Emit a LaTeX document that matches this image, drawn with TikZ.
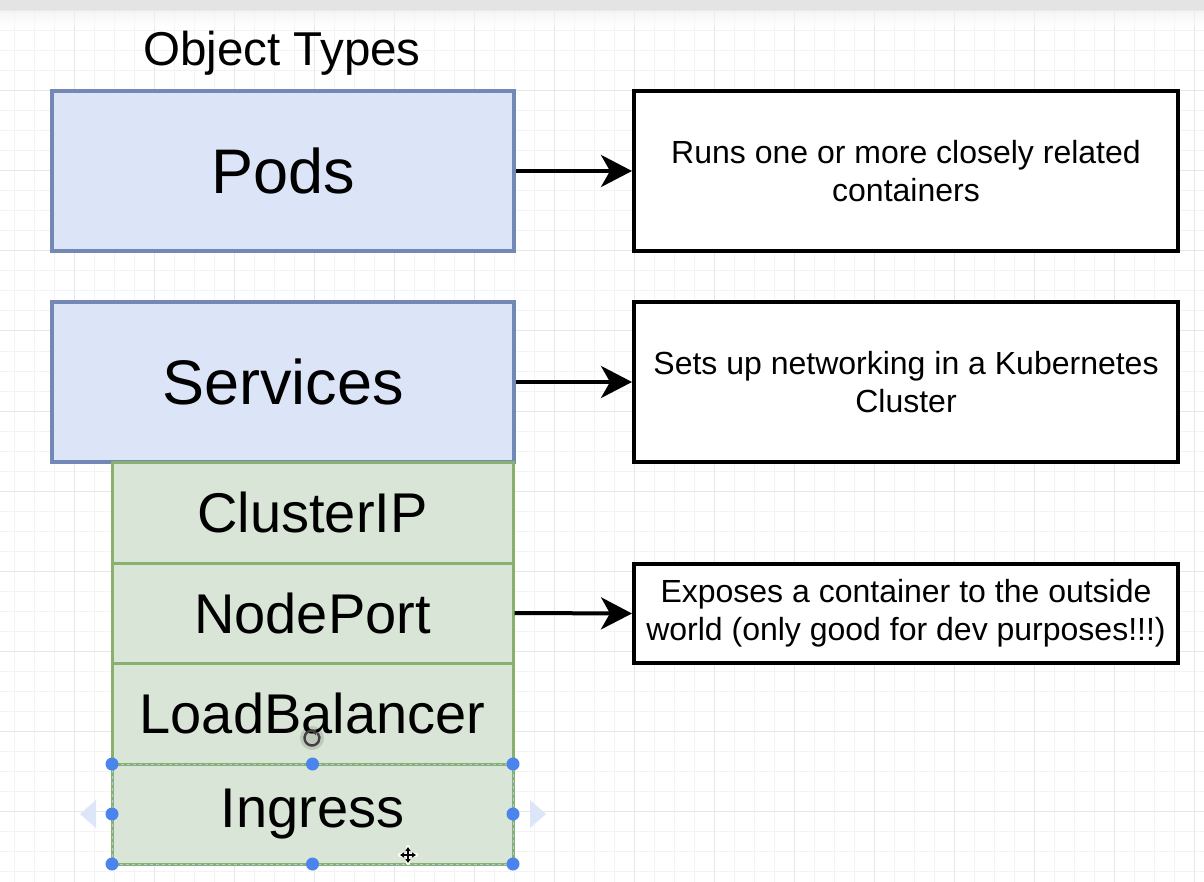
\documentclass[tikz,border=0pt]{standalone}
\usepackage{fontspec}
\setmainfont{Liberation Sans}
\usetikzlibrary{arrows.meta,positioning,calc}
\definecolor{blueFill}{HTML}{DCE5F7}
\definecolor{blueLine}{HTML}{7488B5}
\definecolor{greenFill}{HTML}{D9E5D6}
\definecolor{greenLine}{HTML}{8AB06E}
\definecolor{handleBlue}{HTML}{4C84EE}
\definecolor{gridMinor}{HTML}{F3F3F3}
\definecolor{gridMajor}{HTML}{E7E7E7}
\definecolor{barGray}{HTML}{E4E4E4}
\definecolor{ghost}{HTML}{DCE6F8}
\tikzset{
  bluebox/.style={draw=blueLine, fill=blueFill, line width=3.5pt, rectangle,
    minimum width=462pt, minimum height=160pt, inner sep=0pt, font=\fontsize{63}{70}\selectfont},
  greenbox/.style={draw=greenLine, fill=greenFill, line width=3pt, rectangle, outer sep=0pt,
    minimum width=401pt, inner sep=0pt, font=\fontsize{56}{62}\selectfont},
  descbox/.style={draw=black, fill=white, line width=4pt, rectangle,
    minimum width=544pt, inner sep=0pt, align=center, font=\fontsize{32}{38}\selectfont},
  conn/.style={line width=4pt, -{Stealth[length=31pt,width=32pt,inset=9pt]}},
  handle/.style={fill=handleBlue},
}
\begin{document}
\begin{tikzpicture}[x=1pt,y=-1pt]
\useasboundingbox (0,0) rectangle (1204,882);
\fill[white] (0,0) rectangle (1204,882);
% canvas grid
\foreach \gx in {14,34,...,1204} \draw[gridMinor, line width=1pt] (\gx,11) -- (\gx,882);
\foreach \gy in {31,51,...,882} \draw[gridMinor, line width=1pt] (0,\gy) -- (1204,\gy);
\foreach \gx in {74,154,...,1204} \draw[gridMajor, line width=1pt] (\gx,11) -- (\gx,882);
\foreach \gy in {91,171,...,882} \draw[gridMajor, line width=1pt] (0,\gy) -- (1204,\gy);
% toolbar strip
\fill[barGray] (0,0) rectangle (1204,11);
\shade[top color=gridMajor!70, bottom color=white, opacity=0.6] (0,11) rectangle (1204,26);

% title
\node (title) at (282,53) {\fontsize{47.5}{52}\selectfont Object Types};

% object boxes
\node[bluebox] (pods) at (283,171) {Pods};
\node[bluebox] (services) at (283,382) {Services};
\node[greenbox, minimum height=101pt] (clusterip) at (312.5,512.5) {ClusterIP};
\node[greenbox, minimum height=100pt] (nodeport) at (312.5,613) {NodePort};
\node[greenbox, minimum height=101pt] (lb) at (312.5,713.5) {LoadBalancer};
\node[greenbox, minimum height=100pt] (ingress) at (312.5,814) {Ingress};

% descriptions
\node[descbox, minimum height=160pt] (podsd) at (906,171) {Runs one or more closely related\\containers};
\node[descbox, minimum height=160pt] (servicesd) at (906,382) {Sets up networking in a Kubernetes\\Cluster};
\node[descbox, minimum height=99pt] (nodeportd) at (906,613.5) {Exposes a container to the outside\\world (only good for dev purposes!!!)};

% connectors
\draw[conn] (pods.east) -- (podsd.west);
\draw[conn] (services.east) -- (servicesd.west);
\draw[conn] ([xshift=1.5pt]nodeport.east) -- (nodeportd.west);

% selection on the Ingress box
\draw[handleBlue!45, line width=1pt, dash pattern=on 3pt off 3pt] (ingress.north west) rectangle (ingress.south east);
\fill[ghost] ($(ingress.west)+(-32,0)$) -- ++(16,-14) -- ++(0,28) -- cycle;
\fill[ghost] ($(ingress.east)+(33,0)$) -- ++(-16,-14) -- ++(0,28) -- cycle;
\foreach \a in {north west,north,north east,west,east,south west,south,south east}
  \fill[handle] (ingress.\a) circle (6.5pt);

% rotate handle
\coordinate (rot) at (312,738);
\fill[black, opacity=0.12] (rot) circle (12pt);
\draw[black!75, line width=2.4pt] ([shift={(60:7.5pt)}]rot) arc[start angle=60, end angle=400, radius=7.5pt];
\fill[black!75] ([shift={(50:7.5pt)}]rot) -- ++(-6,-2) -- ++(5,5) -- cycle;

% move cursor
\coordinate (mv) at (408,855);
\foreach \d in {(8,0),(-8,0),(0,8),(0,-8)} \draw[white, line width=4pt, line cap=round] (mv) -- ++\d;
\foreach \d in {(8,0),(-8,0),(0,8),(0,-8)} \draw[black, line width=1.6pt, -{Triangle[length=4pt,width=5pt]}] (mv) -- ++\d;
\end{tikzpicture}
\end{document}
